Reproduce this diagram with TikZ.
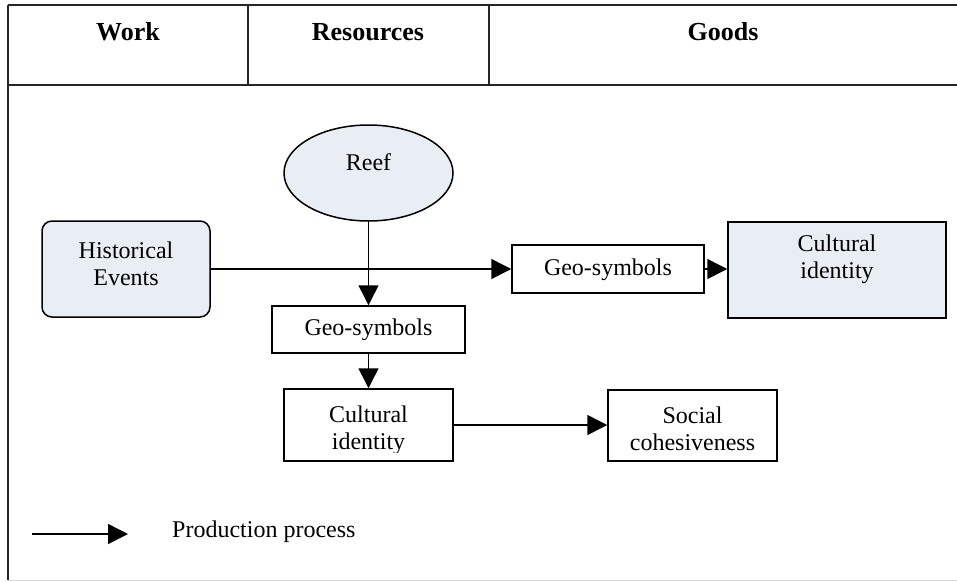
\documentclass[tikz,border=0pt]{standalone}
\usepackage{fontspec}
\setmainfont{Liberation Serif}
\usetikzlibrary{arrows.meta,shapes.geometric}
\definecolor{boxfill}{RGB}{233,238,244}
\tikzset{
  frame/.style={line width=1.7pt, draw=black!85},
  boxline/.style={draw=black, line width=1.5pt},
  plainbox/.style={boxline, rectangle, inner sep=0pt, fill=white},
  shadedbox/.style={boxline, rectangle, inner sep=0pt, fill=boxfill},
  roundbox/.style={boxline, rectangle, rounded corners=10pt, inner sep=0pt, fill=boxfill},
  oval/.style={boxline, ellipse, inner sep=0pt, fill=boxfill},
  txt/.style={font=\fontsize{24}{27}\selectfont, align=center, inner sep=0pt},
  head/.style={font=\fontsize{26}{30}\selectfont\bfseries, inner sep=0pt},
  flow/.style={line width=1.5pt, -{Triangle[length=20pt,width=20pt]}}
}
\begin{document}
\begin{tikzpicture}[x=1pt,y=-1pt]
\useasboundingbox (0,0) rectangle (957,581);
% frame
\draw[line width=1pt, draw=black!15] (8,580) -- (957,580);
\draw[frame] (8,5) -- (957,5);
\draw[frame] (8,85) -- (957,85);
\draw[frame] (8,5) -- (8,580);
\draw[frame] (248,5) -- (248,85);
\draw[frame] (489,5) -- (489,85);
\node[head] (hwork) at (128,32) {Work};
\node[head] (hres) at (368,32) {Resources};
\node[head] (hgoods) at (723,32) {Goods};
% nodes
\node[oval, minimum width=169pt, minimum height=96pt] (reef) at (368.5,173) {};
\node[txt] (treef) at (368.5,162) {Reef};
\node[roundbox, minimum width=168pt, minimum height=96pt] (he) at (126,269) {};
\node[txt] (the) at (126,263.5) {Historical\\Events};
\node[plainbox, minimum width=192pt, minimum height=48pt] (geoR) at (608,269) {};
\node[txt] (tgeoR) at (608,270) {Geo-symbols};
\node[shadedbox, minimum width=218pt, minimum height=96pt] (ciR) at (837,270) {};
\node[txt] (tciR) at (837,259) {Cultural\\identity};
\node[plainbox, minimum width=193pt, minimum height=47pt] (geoM) at (368.5,329.5) {};
\node[txt] (tgeoM) at (368.5,330) {Geo-symbols};
\node[plainbox, minimum width=169pt, minimum height=72pt] (ciL) at (368.5,425) {};
\node[plainbox, minimum width=169pt, minimum height=71pt] (soc) at (692.5,425.5) {};
\begin{scope}
\clip (270,380) rectangle (800,452);
\node[txt] (tciL) at (368.5,430) {Cultural\\identity};
\node[txt] (tsoc) at (692.5,429) {Social\\cohesiveness};
\end{scope}
% connectors
\draw[flow] (he.east) -- (geoR.west);
\draw[flow] (reef.south) -- (geoM.north);
\draw[flow] (geoR.east) -- (geoR.east -| ciR.west);
\draw[flow] (geoM.south) -- (ciL.north);
\draw[flow] (ciL.east) -- (ciL.east -| soc.west);
% legend
\coordinate (la) at (32,534);
\coordinate (lb) at (128,534);
\draw[flow] (la) -- (lb);
\node[txt, anchor=west] (tleg) at (172,532) {Production process};
\end{tikzpicture}
\end{document}
